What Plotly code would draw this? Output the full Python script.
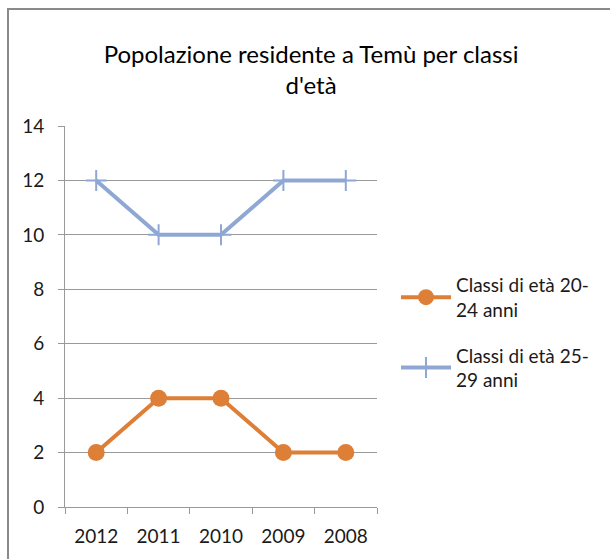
import plotly.graph_objects as go

# Dati
anni = ["2012", "2011", "2010", "2009", "2008"]
classe_20_24 = [2, 4, 4, 2, 2]
classe_25_29 = [12, 10, 10, 12, 12]

nome_20_24 = "Classi di età 20-<br>24 anni"
nome_25_29 = "Classi di età 25-<br>29 anni"

ARANCIO = "#DE7F37"
BLU = "#8EA8D3"
GRIGIO = "#999999"
FONT = "Lato, 'Open Sans', sans-serif"

fig = go.Figure()

fig.add_trace(go.Scatter(
    x=anni, y=classe_20_24,
    name=nome_20_24, legendgroup="a",
    mode="lines+markers",
    line=dict(color=ARANCIO, width=4),
    marker=dict(symbol="circle", size=17, color=ARANCIO)
))

fig.add_trace(go.Scatter(
    x=anni, y=classe_25_29,
    name=nome_25_29, legendgroup="b",
    mode="lines+markers",
    line=dict(color=BLU, width=4),
    marker=dict(symbol="cross-thin", size=15, line=dict(color=BLU, width=2))
))

# Cornice del grafico
fig.add_shape(
    type="rect", xref="paper", yref="paper",
    x0=8 / 610, x1=1.05, y0=-0.05, y1=1 - 9 / 559,
    line=dict(color="#8a8a8a", width=2), fillcolor="rgba(0,0,0,0)"
)

fig.update_layout(
    width=610, height=559, autosize=False,
    margin=dict(l=0, r=0, t=0, b=0, autoexpand=False),
    paper_bgcolor="white", plot_bgcolor="white",
    font=dict(family=FONT, size=19, color="#1a1a1a"),
    title=dict(
        text="Popolazione residente a Temù per classi<br>d'età",
        x=0.51, xanchor="center", y=1 - 63 / 559, yanchor="middle",
        font=dict(size=24, color="#000000")
    ),
    showlegend=True,
    legend=dict(
        x=396 / 610, y=1 - 266 / 559, xanchor="left", yanchor="top",
        font=dict(size=19), tracegroupgap=18, itemwidth=50,
        traceorder="grouped", bgcolor="rgba(0,0,0,0)"
    ),
    xaxis=dict(
        domain=[65 / 610, 377 / 610], automargin=False,
        range=[-0.5, len(anni) - 0.5],
        showgrid=False, showline=True, linecolor=GRIGIO, linewidth=1,
        ticks="outside", tickson="boundaries", ticklen=6, tickcolor=GRIGIO,
        ticklabelstandoff=12, tickfont=dict(size=19)
    ),
    yaxis=dict(
        domain=[1 - 507 / 559, 1 - 126 / 559], automargin=False,
        range=[0, 14], dtick=2,
        showgrid=True, gridcolor=GRIGIO, gridwidth=1,
        showline=True, linecolor=GRIGIO, linewidth=1,
        ticks="outside", ticklen=6, tickcolor=GRIGIO,
        ticklabelstandoff=10, zeroline=False, tickfont=dict(size=19)
    )
)

fig.write_html("out.html", post_script="document.body.style.margin='0';",
               config={"displayModeBar": False})
